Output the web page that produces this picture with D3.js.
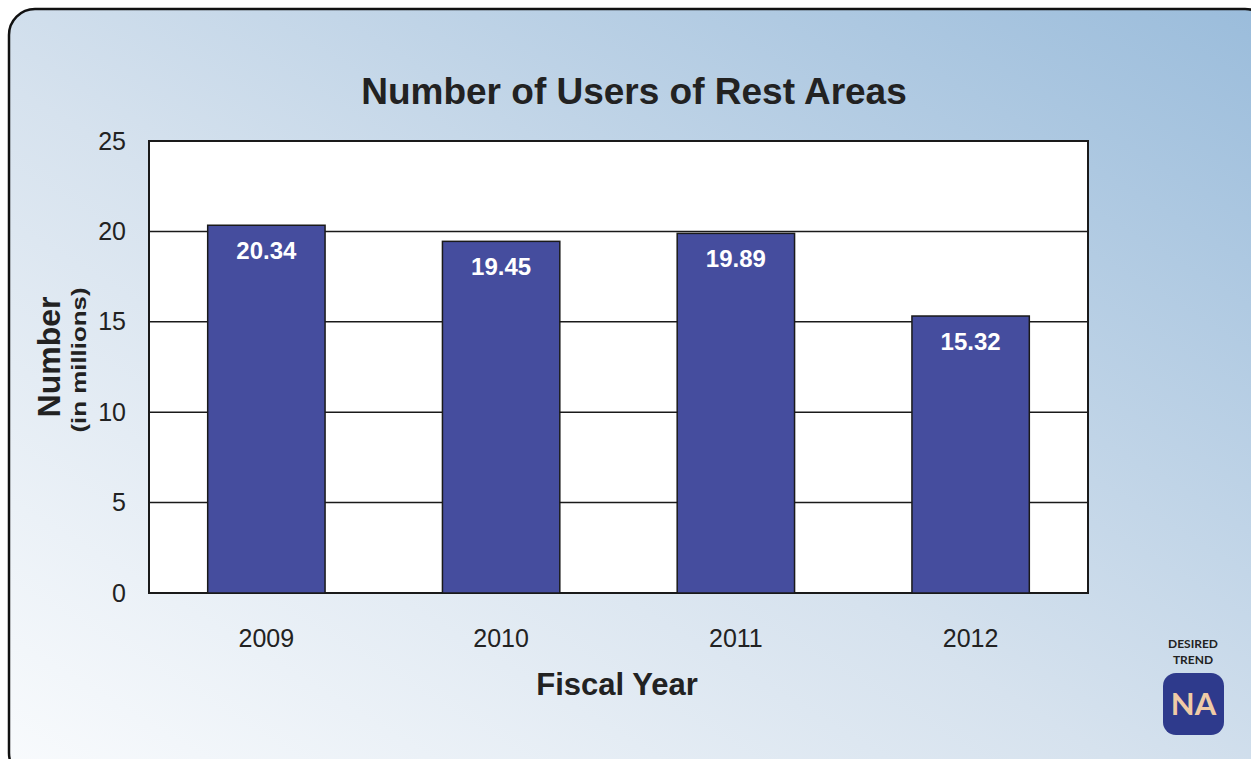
<!DOCTYPE html>
<html><head><meta charset="utf-8">
<script src="https://cdn.jsdelivr.net/npm/d3@7"></script>
<style>html,body{margin:0;padding:0;background:#fff;overflow:hidden}</style>
</head><body>
<script>
const categories = ["2009","2010","2011","2012"];
const values = [20.34, 19.45, 19.89, 15.32];
const yTicks = [0,5,10,15,20,25];
const title = "Number of Users of Rest Areas";

const W = 1251, H = 759;
const FONT = "Liberation Sans, Arial, sans-serif";
const svg = d3.select("body").append("svg").attr("width", W).attr("height", H);
const defs = svg.append("defs");
const g = defs.append("linearGradient").attr("id","bg").attr("x1","0").attr("y1","1").attr("x2","1").attr("y2","0");
g.append("stop").attr("offset","0").attr("stop-color","#f9fbfd");
g.append("stop").attr("offset","0.45").attr("stop-color","#d6e2ee");
g.append("stop").attr("offset","1").attr("stop-color","#9abcdb");

svg.append("rect").attr("x",9).attr("y",9).attr("width",1262).attr("height",770)
  .attr("rx",26).attr("fill","url(#bg)").attr("stroke","#111").attr("stroke-width",2.5);

const m = {l:149, r:1088, t:141, b:593};
const x = d3.scaleBand().domain(categories).range([m.l, m.r]).paddingInner(0.5).paddingOuter(0.25);
const y = d3.scaleLinear().domain([0,25]).range([m.b, m.t]);

svg.append("rect").attr("x",m.l).attr("y",m.t).attr("width",m.r-m.l).attr("height",m.b-m.t)
  .attr("fill","#fff");

svg.append("g").selectAll("line").data(yTicks).join("line")
  .attr("x1",m.l).attr("x2",m.r).attr("y1",d=>y(d)).attr("y2",d=>y(d))
  .attr("stroke","#1a1a1a").attr("stroke-width",1.5);

svg.append("rect").attr("x",m.l).attr("y",m.t).attr("width",m.r-m.l).attr("height",m.b-m.t)
  .attr("fill","none").attr("stroke","#1a1a1a").attr("stroke-width",2);

const yAxis = d3.axisLeft(y).tickValues(yTicks).tickSize(0).tickPadding(23);
const ya = svg.append("g").attr("transform",`translate(${m.l},0)`).call(yAxis);
ya.select(".domain").remove();
ya.selectAll("text").attr("font-family",FONT).attr("font-size",25).attr("fill","#222");

const xAxis = d3.axisBottom(x).tickSize(0).tickPadding(36);
const xa = svg.append("g").attr("transform",`translate(0,${m.b})`).call(xAxis);
xa.select(".domain").remove();
xa.selectAll("text").attr("font-family",FONT).attr("font-size",25).attr("fill","#222");

svg.append("g").selectAll("rect").data(values).join("rect")
  .attr("x",(d,i)=>x(categories[i])).attr("width",x.bandwidth())
  .attr("y",d=>y(d)).attr("height",d=>m.b-y(d))
  .attr("fill","#454d9e").attr("stroke","#1a1a1a").attr("stroke-width",1.5);

svg.append("g").selectAll("text").data(values).join("text")
  .attr("x",(d,i)=>x(categories[i])+x.bandwidth()/2).attr("y",d=>y(d)+34)
  .attr("text-anchor","middle").attr("font-family",FONT)
  .attr("font-weight","bold").attr("font-size",24).attr("fill","#fff")
  .text(d=>d.toFixed(2));

svg.append("text").attr("x",634).attr("y",104).attr("text-anchor","middle")
  .attr("font-family",FONT).attr("font-weight","bold")
  .attr("font-size",37).attr("fill","#222").text(title);

svg.append("text").attr("x",617).attr("y",695).attr("text-anchor","middle")
  .attr("font-family",FONT).attr("font-weight","bold")
  .attr("font-size",31).attr("fill","#222").text("Fiscal Year");

svg.append("text").attr("transform","translate(60,357) rotate(-90)").attr("text-anchor","middle")
  .attr("font-family",FONT).attr("font-weight","bold")
  .attr("font-size",32).attr("fill","#222").text("Number");
svg.append("text").attr("transform","translate(86,360) rotate(-90)").attr("text-anchor","middle")
  .attr("font-family",FONT).attr("font-weight","bold")
  .attr("font-size",21).attr("fill","#222")
  .attr("textLength",145).attr("lengthAdjust","spacingAndGlyphs").text("(in millions)");

svg.append("text").attr("x",1193).attr("y",648).attr("text-anchor","middle")
  .attr("font-family","Lato, Liberation Sans, sans-serif").attr("font-weight","bold")
  .attr("font-size",12).attr("fill","#222").text("DESIRED");
svg.append("text").attr("x",1193).attr("y",664).attr("text-anchor","middle")
  .attr("font-family","Lato, Liberation Sans, sans-serif").attr("font-weight","bold")
  .attr("font-size",12).attr("fill","#222").text("TREND");
svg.append("rect").attr("x",1163).attr("y",673).attr("width",61).attr("height",62).attr("rx",13)
  .attr("fill","#2e3a8c");
svg.append("text").attr("x",1193.5).attr("y",715).attr("text-anchor","middle")
  .attr("font-family","Lato, Liberation Sans, sans-serif").attr("font-weight","bold")
  .attr("font-size",31).attr("fill","#f0cba6").text("NA");
</script>
</body></html>
